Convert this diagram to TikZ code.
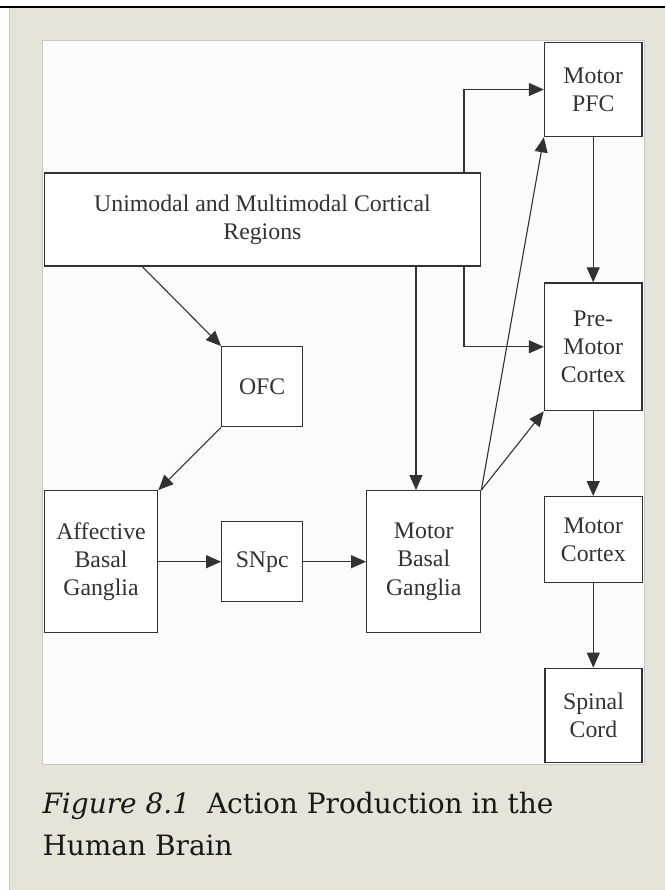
\documentclass[tikz,border=0pt]{standalone}
\usepackage{fontspec}
\usetikzlibrary{arrows.meta}
\newfontfamily\diafont{Liberation Serif}
\newfontfamily\capfont{DejaVu Serif}
\definecolor{panelgray}{RGB}{230,227,217}
\definecolor{panelwhite}{RGB}{251,252,250}
\definecolor{edgegray}{RGB}{200,200,200}
\definecolor{ink}{RGB}{50,50,50}
\tikzset{
  blk/.style={draw=ink, line width=1.3pt, fill=white, inner sep=0pt, align=center,
    text=ink, font=\diafont\fontsize{23.8}{28.3}\selectfont},
  conn/.style={draw=ink, line width=1.1pt, -{Triangle[length=15pt,width=13pt]}},
  plain/.style={draw=ink, line width=1.1pt}
}
\begin{document}
\begin{tikzpicture}[x=1pt,y=-1pt]
\useasboundingbox (0,0) rectangle (665,890);
\fill[white] (0,0) rectangle (665,890);
% gray page panel
\fill[panelgray] (9,8) rectangle (665,890);
\draw[edgegray, line width=1pt] (9.5,8) -- (9.5,890);
\draw[black, line width=2pt] (0,6.7) -- (665,6.7);
% white figure panel
\filldraw[fill=panelwhite, draw=edgegray, line width=1pt] (42.3,41) rectangle (644,764);

% nodes
\node[blk, minimum width=97.5pt, minimum height=94.4pt] (pfc) at (593.2,89.5) {Motor\\PFC};
\node[blk, minimum width=436.2pt, minimum height=93pt] (uni) at (262.4,219.5) {Unimodal and Multimodal Cortical\\Regions};
\node[blk, minimum width=97.5pt, minimum height=127.7pt] (pmc) at (593.2,346.8) {Pre-\\Motor\\Cortex};
\node[blk, minimum width=81pt, minimum height=80pt] (ofc) at (262.2,386.7) {OFC};
\node[blk, minimum width=113.4pt, minimum height=141.6pt] (abg) at (101,561.5) {Affective\\Basal\\Ganglia};
\node[blk, minimum width=81pt, minimum height=80pt] (snpc) at (262.2,561.7) {SNpc};
\node[blk, minimum width=114pt, minimum height=141.6pt] (mbg) at (423.7,561.5) {Motor\\Basal\\Ganglia};
\node[blk, minimum width=98pt, minimum height=86pt] (mc) at (593.3,539.7) {Motor\\Cortex};
\node[blk, minimum width=97pt, minimum height=94pt] (sc) at (593.5,715.3) {Spinal\\Cord};

% connector anchor points on the Unimodal box
\coordinate (uTop) at (464,173);
\coordinate (uBotR) at (464,266);
\coordinate (uBotM) at (416,266);
\coordinate (uBotL) at (141.7,266);

% connectors
\draw[conn] (uTop) |- (pfc.west);
\draw[conn] (uBotR) |- (pmc.west);
\draw[conn] (uBotM) -- (uBotM |- mbg.north);
\draw[conn] (uBotL) -- (ofc.north west);
\draw[conn] (ofc.south west) -- (abg.north east);
\draw[conn] (abg.east |- snpc.west) -- (snpc.west);
\draw[conn] (snpc.east) -- (mbg.west |- snpc.east);
\draw[conn] (mbg.north east) -- (pfc.south west);
\draw[conn] (mbg.north east) -- (pmc.south west);
\draw[conn] (pfc.south) -- (pmc.north);
\draw[conn] (pmc.south) -- (pmc.south |- mc.north);
\draw[conn] (mc.south) -- (mc.south |- sc.north);

% caption
\node[anchor=base west, inner sep=0pt, text=black!90, font=\capfont\fontsize{28}{42}\selectfont] (cap1) at (42.3,813.3) {\itshape Figure 8.1\upshape\hspace{0.6em}Action Production in the};
\node[anchor=base west, inner sep=0pt, text=black!90, font=\capfont\fontsize{28}{42}\selectfont] (cap2) at (42.3,855) {Human Brain};
\end{tikzpicture}
\end{document}
